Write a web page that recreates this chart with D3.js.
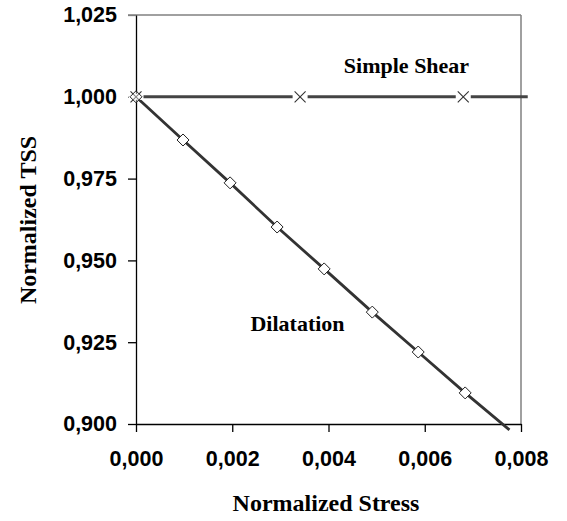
<!DOCTYPE html>
<html>
<head>
<meta charset="utf-8">
<script src="https://cdn.jsdelivr.net/npm/d3@7"></script>
<style>
html,body{margin:0;padding:0;background:#fff;}
svg{display:block;}
</style>
</head>
<body>
<svg id="chart" width="567" height="521"></svg>
<script>
// ---- data ----
const xTicks = [0, 0.002, 0.004, 0.006, 0.008];
const yTicks = [0.900, 0.925, 0.950, 0.975, 1.000, 1.025];

const dilatationX = [0, 0.000977, 0.001955, 0.002932, 0.00391, 0.00491, 0.005864, 0.00684];
const dilatationY = [1.0000, 0.9868, 0.9737, 0.9602, 0.9474, 0.9342, 0.9220, 0.9095];
const dilatationLineEnd = [0.00776, 0.8982];

const shearX = [0, 0.00341, 0.0068];
const shearY = [1.000, 1.000, 1.000];
const shearLineEnd = [0.00814, 1.000];

const labels = {x: "Normalized Stress", y: "Normalized TSS", shear: "Simple Shear", dil: "Dilatation"};

// ---- chart ----
const svg = d3.select("#chart");
const x = d3.scaleLinear().domain([0, 0.008]).range([136, 521]);
const y = d3.scaleLinear().domain([0.900, 1.025]).range([424, 15]);

const loc = d3.formatLocale({decimal: ",", thousands: ".", grouping: [3], currency: ["", ""]});
const fmt = loc.format(".3f");

// frame (top and right, gray)
svg.append("line").attr("x1", 128).attr("x2", x(0.008)).attr("y1", y(1.025)).attr("y2", y(1.025))
  .attr("stroke", "#808080").attr("stroke-width", 1.5);
svg.append("line").attr("x1", x(0.008)).attr("x2", x(0.008)).attr("y1", y(1.025)).attr("y2", y(0.9))
  .attr("stroke", "#808080").attr("stroke-width", 1.5);

// axes
const xAxis = svg.append("g").attr("transform", `translate(0,${y(0.9)})`)
  .call(d3.axisBottom(x).tickValues(xTicks).tickFormat(fmt).tickSize(8).tickSizeOuter(0).tickPadding(19));
const yAxis = svg.append("g").attr("transform", `translate(${x(0)},0)`)
  .call(d3.axisLeft(y).tickValues(yTicks).tickFormat(fmt).tickSize(8).tickSizeOuter(0).tickPadding(11));

[xAxis, yAxis].forEach(g => {
  g.select(".domain").attr("stroke", "#000").attr("stroke-width", 1.3);
  g.selectAll(".tick line").attr("stroke", "#000").attr("stroke-width", 1.3);
  g.selectAll(".tick text").attr("fill", "#000")
    .style("font-family", "'Liberation Sans', Arial, sans-serif")
    .style("font-weight", "bold").style("font-size", "21.5px");
});
xAxis.selectAll(".tick text").attr("dy", "0.71em");
yAxis.select(".tick:last-of-type line").attr("stroke", "#808080");

// lines
const line = d3.line().x(d => x(d[0])).y(d => y(d[1]));
const shearPts = shearX.map((v, i) => [v, shearY[i]]).concat([shearLineEnd]);
const dilPts = dilatationX.map((v, i) => [v, dilatationY[i]]).concat([dilatationLineEnd]);

svg.append("path").datum(shearPts).attr("d", line)
  .attr("fill", "none").attr("stroke", "#444").attr("stroke-width", 3);
svg.append("path").datum(dilPts).attr("d", line)
  .attr("fill", "none").attr("stroke", "#333").attr("stroke-width", 2.8);

// shear markers (X with white gap)
const sh = svg.append("g").selectAll("g").data(shearX.map((v, i) => [v, shearY[i]])).join("g")
  .attr("transform", d => `translate(${x(d[0])},${y(d[1])})`);
sh.append("rect").attr("x", -7.5).attr("y", -3).attr("width", 15).attr("height", 6).attr("fill", "#fff");
sh.append("path").attr("d", "M-5.5,-5.5L5.5,5.5M-5.5,5.5L5.5,-5.5")
  .attr("stroke", "#333").attr("stroke-width", 1.1).attr("fill", "none");

// dilatation diamonds
svg.append("g").selectAll("path").data(dilatationX.map((v, i) => [v, dilatationY[i]])).join("path")
  .attr("transform", d => `translate(${x(d[0])},${y(d[1])})`)
  .attr("d", "M0,-6L6,0L0,6L-6,0Z")
  .attr("fill", "#fff").attr("stroke", "#222").attr("stroke-width", 1)
  .attr("fill-opacity", (d, i) => i === 0 ? 0.4 : 1);

// text labels
const serif = "'Liberation Serif', 'Times New Roman', serif";
svg.append("text").attr("x", 326).attr("y", 511).attr("text-anchor", "middle")
  .style("font-family", serif).style("font-weight", "bold").style("font-size", "24px").text(labels.x);
svg.append("text").attr("transform", "translate(36,220) rotate(-90)").attr("text-anchor", "middle")
  .style("font-family", serif).style("font-weight", "bold").style("font-size", "24px").text(labels.y);
svg.append("text").attr("x", 406.5).attr("y", 73).attr("text-anchor", "middle")
  .style("font-family", serif).style("font-weight", "bold").style("font-size", "22px").text(labels.shear);
svg.append("text").attr("x", 297.5).attr("y", 331).attr("text-anchor", "middle")
  .style("font-family", serif).style("font-weight", "bold").style("font-size", "22px").text(labels.dil);
</script>
</body>
</html>
